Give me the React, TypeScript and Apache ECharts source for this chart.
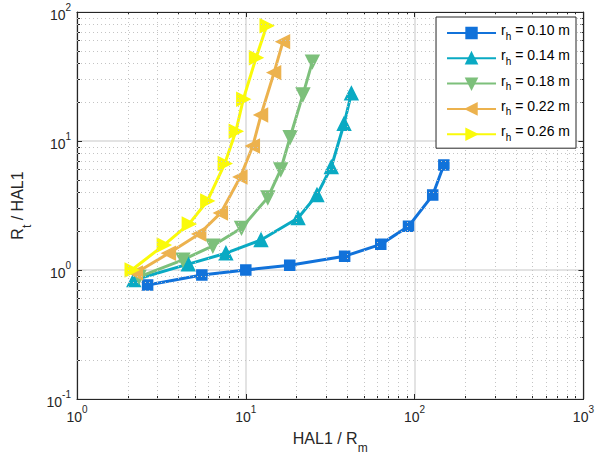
import React, { useEffect, useRef } from "react";
import * as echarts from "echarts";

const seriesNames = ["0.10", "0.14", "0.18", "0.22", "0.26"];
const colors = ["#1172DA", "#0AAAC3", "#7DC07B", "#ECB24E", "#FAFA0A"];

const blueX = [2.62, 5.49, 10.0, 18.2, 38.5, 63, 92, 128, 149];
const blueY = [0.765, 0.915, 1.0, 1.09, 1.28, 1.58, 2.18, 3.81, 6.51];
const tealX = [2.17, 4.56, 7.62, 12.3, 20.4, 26.4, 32.1, 38.2, 42.2];
const tealY = [0.836, 1.11, 1.35, 1.71, 2.53, 3.82, 6.29, 13.6, 23.4];
const greenX = [2.33, 4.24, 6.38, 9.43, 13.5, 16.1, 18.3, 21.8, 24.8];
const greenY = [0.883, 1.2, 1.54, 2.12, 3.64, 6.01, 10.7, 22.9, 41.2];
const orangeX = [2.23, 3.5, 5.29, 7.11, 9.28, 11.0, 12.3, 14.7, 16.6];
const orangeY = [0.948, 1.35, 1.9, 2.77, 5.26, 9.15, 15.9, 33.9, 58.9];
const yellowX = [2.11, 3.27, 4.6, 5.92, 7.51, 8.73, 9.67, 11.5, 13.3];
const yellowY = [1.0, 1.56, 2.27, 3.43, 6.69, 11.9, 21.1, 44.2, 78.3];

const xMinor = [2, 3, 4, 5, 6, 7, 8, 9, 20, 30, 40, 50, 60, 70, 80, 90, 200, 300, 400, 500, 600, 700, 800, 900];
const yMinor = [0.2, 0.3, 0.4, 0.5, 0.6, 0.7, 0.8, 0.9, 2, 3, 4, 5, 6, 7, 8, 9, 20, 30, 40, 50, 60, 70, 80, 90];

const FONT = "Liberation Sans";
const AX = "#262626";

const zip = (xs: number[], ys: number[]) => xs.map((x, i) => [x, ys[i]]);

const expLabel = (v: number) => {
  const e = Math.round(Math.log10(v));
  return `{b|10}{s|${e}}`;
};
const labelRich = {
  b: { fontSize: 14, fontFamily: FONT, color: AX, lineHeight: 20, verticalAlign: "bottom" },
  s: { fontSize: 10, fontFamily: FONT, color: AX, lineHeight: 20, verticalAlign: "top", padding: [0, 0, 8, 0] },
};

export default function App() {
  const ref = useRef<HTMLDivElement>(null);
  useEffect(() => {
    if (!ref.current) return;
    const chart = echarts.init(ref.current, undefined, { renderer: "svg" });

    const mkAxisX = (pos: "bottom" | "top", minor: boolean, labels: boolean) => ({
      type: "log",
      logBase: 10,
      min: 1,
      max: 1000,
      position: pos,
      gridIndex: 0,
      axisLine: { show: !minor, onZero: false, lineStyle: { color: AX, width: 1.2 } },
      axisTick: minor
        ? { show: true, inside: true, length: 3, customValues: xMinor, lineStyle: { color: AX } }
        : { show: true, inside: true, length: 5, lineStyle: { color: AX } },
      axisLabel: labels
        ? { show: true, formatter: expLabel, rich: labelRich, margin: 5 }
        : { show: false },
      splitLine: !minor && labels ? { show: true, lineStyle: { color: "#dadada", width: 1.5 } } : { show: false },
      ...(labels
        ? {
            name: "{n|HAL1 / R}{m|m}",
            nameLocation: "middle",
            nameGap: 31,
            nameTextStyle: {
              rich: {
                n: { fontSize: 16, fontFamily: FONT, color: AX, lineHeight: 24, verticalAlign: "top" },
                m: { fontSize: 12, fontFamily: FONT, color: AX, lineHeight: 24, verticalAlign: "bottom", padding: [10, 0, 0, 0] },
              },
            },
          }
        : {}),
    });

    const mkAxisY = (pos: "left" | "right", minor: boolean, labels: boolean) => ({
      type: "log",
      logBase: 10,
      min: 0.1,
      max: 100,
      position: pos,
      gridIndex: 0,
      axisLine: { show: !minor, onZero: false, lineStyle: { color: AX, width: 1.2 } },
      axisTick: minor
        ? { show: true, inside: true, length: 3, customValues: yMinor, lineStyle: { color: AX } }
        : { show: true, inside: true, length: 5, lineStyle: { color: AX } },
      axisLabel: labels
        ? { show: true, formatter: expLabel, rich: labelRich, margin: 6 }
        : { show: false },
      splitLine: !minor && labels ? { show: true, lineStyle: { color: "#dadada", width: 1.5 } } : { show: false },
      ...(labels
        ? {
            name: "{n|R}{m|t}{n| / HAL1}",
            nameLocation: "middle",
            nameGap: 44,
            nameRotate: 90,
            nameTextStyle: {
              rich: {
                n: { fontSize: 16, fontFamily: FONT, color: AX, lineHeight: 24, verticalAlign: "top" },
                m: { fontSize: 12, fontFamily: FONT, color: AX, lineHeight: 24, verticalAlign: "bottom", padding: [10, 0, 0, 0] },
              },
            },
          }
        : {}),
    });

    const dataSets = [
      zip(blueX, blueY),
      zip(tealX, tealY),
      zip(greenX, greenY),
      zip(orangeX, orangeY),
      zip(yellowX, yellowY),
    ];
    const symbols = ["rect", "triangle", "triangle", "triangle", "triangle"];
    const rotates = [0, 0, 180, 90, -90];
    const sizes = [10, 13, 13, 13, 13];

    const gridLine = {
      type: "line",
      name: "__grid",
      data: [],
      silent: true,
      z: 0,
      symbol: "none",
      markLine: {
        silent: true,
        symbol: ["none", "none"],
        label: { show: false },
        animation: false,
        lineStyle: { color: "#c4c4c4", type: [1, 3], width: 1 },
        data: [
          ...xMinor.map((v) => ({ xAxis: v })),
          ...yMinor.map((v) => ({ yAxis: v })),
        ],
      },
    };

    const lines = dataSets.map((d, i) => ({
      type: "line",
      name: seriesNames[i],
      data: d,
      xAxisIndex: 0,
      yAxisIndex: 0,
      z: 3,
      lineStyle: { color: colors[i], width: 3 },
      itemStyle: { color: colors[i], borderColor: colors[i], borderWidth: 1.5, opacity: 1 },
      symbol: symbols[i],
      symbolSize: sizes[i],
      symbolRotate: rotates[i],
      showAllSymbol: true,
    }));

    chart.setOption({
      animation: false,
      backgroundColor: "#ffffff",
      grid: { left: 77, right: 13, top: 12, bottom: 67, containLabel: false },
      xAxis: [mkAxisX("bottom", false, true), mkAxisX("bottom", true, false), mkAxisX("top", false, false), mkAxisX("top", true, false)],
      yAxis: [mkAxisY("left", false, true), mkAxisY("left", true, false), mkAxisY("right", false, false), mkAxisY("right", true, false)],
      legend: {
        data: seriesNames,
        orient: "vertical",
        right: 21,
        top: 17,
        padding: [6, 6, 4, 10],
        itemWidth: 49,
        itemHeight: 13,
        itemGap: 5.3,
        backgroundColor: "#ffffff",
        borderColor: AX,
        borderWidth: 1,
        borderRadius: 0,
        z: 10,
        formatter: (name: string) => `{r|r}{h|h}{r| = ${name} m}`,
        textStyle: {
          rich: {
            r: { fontSize: 14, fontFamily: FONT, color: "#000", lineHeight: 14, padding: [0, 0, 6, 0] },
            h: { fontSize: 10, fontFamily: FONT, color: "#000", lineHeight: 10, padding: [6, 0, 0, 0] },
          },
        },
      },
      series: [gridLine, ...lines],
    });
    return () => chart.dispose();
  }, []);
  return <div ref={ref} style={{ position: "absolute", left: 0, top: 0, width: 597, height: 466 }} />;
}
